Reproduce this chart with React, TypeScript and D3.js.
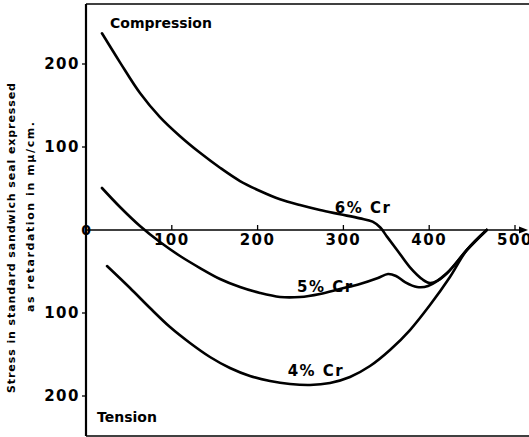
import React from "react";
import * as d3 from "d3";

const W = 529;
const H = 437;

// Temperature (x) and stress (y, + compression, - tension) readings
const cr6X = [18.6, 39.6, 62.9, 86.2, 109.6, 132.9, 156.2, 179.5, 202.8, 226.1, 249.4, 272.7, 296, 319.3, 334, 343, 350.8, 362.5, 377.6, 392.8, 401, 410, 421, 444, 467];
const cr6Y = [237, 202, 165, 136, 113, 93, 75, 59, 47, 37, 30, 24, 19, 14, 10, 3, -8, -24, -45, -60, -64, -61, -52, -24, 0];

const cr5X = [18.6, 39.6, 62.9, 86.2, 109.6, 132.9, 156.2, 179.5, 202.8, 226.1, 249.4, 272.7, 296, 319.3, 340.3, 352, 361.3, 371.8, 385.8, 398.6, 420.7, 444, 467];
const cr5Y = [50.6, 27.7, 4.8, -14.5, -31.3, -45.8, -59, -68.7, -75.9, -80.7, -80.7, -77, -71, -65, -57.8, -53, -55.4, -62.7, -68.7, -67.5, -51.8, -24, 0];

const cr4X = [24.5, 51.3, 74.6, 97.9, 121.2, 144.5, 167.8, 191.1, 214.5, 237.8, 261.1, 284.4, 307.7, 331, 354.3, 377.6, 400.9, 424.2, 444, 467];
const cr4Y = [-43.4, -69.9, -94, -116.9, -136.1, -153, -166.3, -175.9, -181.9, -185.5, -186.7, -184.3, -177.1, -163.9, -144.6, -120.5, -90.4, -56.6, -24, 0];

const xTicks = [100, 200, 300, 400, 500];
const xTickLabels = ["100", "200", "300", "400", "500"];
const yTicks = [200, 100, -100, -200];
const yTickLabels = ["200", "100", "100", "200"];

const seriesNames = ["6% Cr", "5% Cr", "4% Cr"];

const FONT = "'DejaVu Sans', sans-serif";

export default function App() {
  const x = d3.scaleLinear().domain([0, 500]).range([86, 515]);
  const y = d3.scaleLinear().domain([-200, 200]).range([396, 64]);

  const line = d3
    .line<[number, number]>()
    .x((d) => x(d[0]))
    .y((d) => y(d[1]))
    .curve(d3.curveCatmullRom.alpha(0.5));

  const series = [
    { xs: cr6X, ys: cr6Y },
    { xs: cr5X, ys: cr5Y },
    { xs: cr4X, ys: cr4Y },
  ];

  const labelPos = [
    { lx: 290, ly: 21 },
    { lx: 246, ly: -75 },
    { lx: 235, ly: -176 },
  ];

  const x0 = x(0);
  const y0 = y(0);

  return (
    <div style={{ position: "fixed", left: 0, top: 0, width: W, height: H, background: "#fff" }}>
      <svg width={W} height={H} style={{ display: "block" }} fontFamily={FONT}>
        <rect x={0} y={0} width={W} height={H} fill="#fff" />
        {/* frame */}
        <line x1={x0} y1={4} x2={W} y2={4} stroke="#000" strokeWidth={1.6} />
        <line x1={x0} y1={436} x2={W} y2={436} stroke="#000" strokeWidth={1.6} />
        <line x1={x0} y1={4} x2={x0} y2={436} stroke="#000" strokeWidth={2.2} />
        {/* x axis */}
        <line x1={x0} y1={y0} x2={524} y2={y0} stroke="#000" strokeWidth={1.5} />
        <path d={`M${528},${y0} L${519},${y0 - 3.5} L${519},${y0 + 3.5} Z`} fill="#000" />
        {xTicks.map((t, i) => (
          <g key={"xt" + t}>
            <line x1={x(t)} y1={y0 - 5} x2={x(t)} y2={y0} stroke="#000" strokeWidth={1.3} />
            <text
              x={x(t)}
              y={y0 + 15}
              textAnchor="middle"
              fontSize={15}
              fontWeight="bold"
              letterSpacing={1.5}
            >
              {xTickLabels[i]}
            </text>
          </g>
        ))}
        {yTicks.map((t, i) => (
          <g key={"yt" + t}>
            <line x1={x0 - 4} y1={y(t)} x2={x0} y2={y(t)} stroke="#000" strokeWidth={1.3} />
            <text
              x={x0 - 6}
              y={y(t)}
              dy="0.36em"
              textAnchor="end"
              fontSize={15}
              fontWeight="bold"
              letterSpacing={1.5}
            >
              {yTickLabels[i]}
            </text>
          </g>
        ))}
        <text x={x0} y={y0} dy="0.36em" textAnchor="middle" fontSize={14} fontWeight="bold">
          0
        </text>
        {/* curves */}
        {series.map((s, i) => (
          <path
            key={"s" + i}
            d={line(s.xs.map((v, j) => [v, s.ys[j]] as [number, number])) || ""}
            fill="none"
            stroke="#000"
            strokeWidth={2.6}
            strokeLinejoin="round"
            strokeLinecap="round"
          />
        ))}
        {seriesNames.map((n, i) => (
          <text
            key={"lab" + i}
            x={x(labelPos[i].lx)}
            y={y(labelPos[i].ly)}
            fontSize={15}
            fontWeight="bold"
            letterSpacing={1.5}
          >
            {n}
          </text>
        ))}
        {/* region labels */}
        <text x={110} y={28} fontSize={14} fontWeight="bold">
          Compression
        </text>
        <text x={97} y={422} fontSize={14} fontWeight="bold">
          Tension
        </text>
        {/* y-axis title */}
        <text
          transform={`translate(15,238) rotate(-90)`}
          textAnchor="middle"
          fontSize={11}
          fontWeight="bold"
          textLength={310}
          lengthAdjust="spacing"
        >
          Stress in standard sandwich seal expressed
        </text>
        <text
          transform={`translate(34,217) rotate(-90)`}
          textAnchor="middle"
          fontSize={11}
          fontWeight="bold"
          textLength={190}
          lengthAdjust="spacing"
        >
          as retardation in mμ/cm.
        </text>
      </svg>
    </div>
  );
}
